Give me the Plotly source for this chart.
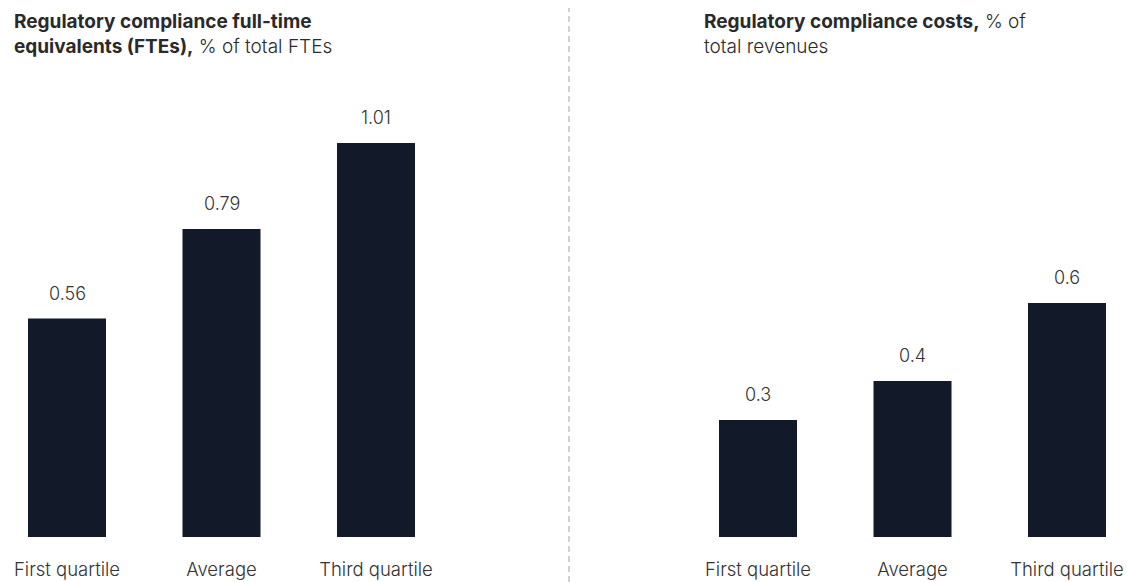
import plotly.graph_objects as go

# Data
categories = ["First quartile", "Average", "Third quartile"]
fte_share = [0.56, 0.79, 1.01]        # % of total FTEs
cost_share = [0.3, 0.4, 0.6]          # % of total revenues
fte_labels = ["0.56", "0.79", "1.01"]
cost_labels = ["0.3", "0.4", "0.6"]

W, H = 1127, 582
BAR = "#121a2a"
FONT = "Inter, 'Noto Sans', Arial, sans-serif"

fig = go.Figure()
fig.add_trace(go.Bar(x=categories, y=fte_share, xaxis="x", yaxis="y",
                     marker=dict(color=BAR, line=dict(width=0)), width=0.505,
                     hoverinfo="skip"))
fig.add_trace(go.Bar(x=categories, y=cost_share, xaxis="x2", yaxis="y2",
                     marker=dict(color=BAR, line=dict(width=0)), width=0.505,
                     hoverinfo="skip"))

# Value labels above bars
ann = []
for xref, yref, vals, labs in (("x", "y", fte_share, fte_labels),
                               ("x2", "y2", cost_share, cost_labels)):
    for c, v, t in zip(categories, vals, labs):
        ann.append(dict(x=c, y=v, xref=xref, yref=yref, text=t, showarrow=False,
                        yanchor="bottom", yshift=13,
                        font=dict(family=FONT, size=18, color="#333333",
                                  weight=300)))

# Panel titles
title_font = dict(family=FONT, size=19, color="#2a2a2a", weight=300)
ann.append(dict(x=12 / W, y=1 - 8 / H, xref="paper", yref="paper",
                xanchor="left", yanchor="top", align="left", showarrow=False,
                text="<b>Regulatory compliance full-time</b><br>"
                     "<b>equivalents (FTEs),</b> % of total FTEs",
                font=title_font))
ann.append(dict(x=702 / W, y=1 - 8 / H, xref="paper", yref="paper",
                xanchor="left", yanchor="top", align="left", showarrow=False,
                text="<b>Regulatory compliance costs,</b> % of<br>total revenues",
                font=title_font))

# Geometry
step = 154.5
base_px = 537
top_px = 60
unit_px = 390
ydom = [(H - base_px) / H, (H - top_px) / H]
ymax = (base_px - top_px) / unit_px

l0 = -67 / step
r_start = 690
r0 = -(758 - r_start) / step

axis_common = dict(showgrid=False, zeroline=False, showline=False,
                   ticks="outside", ticklen=16, tickcolor="rgba(0,0,0,0)",
                   tickfont=dict(family=FONT, size=18.5, color="#333333",
                                 weight=300),
                   fixedrange=True)

fig.update_layout(
    width=W, height=H,
    margin=dict(l=0, r=0, t=0, b=0),
    paper_bgcolor="white", plot_bgcolor="white",
    showlegend=False,
    xaxis=dict(domain=[0, 460 / W], range=[l0, l0 + 460 / step], **axis_common),
    xaxis2=dict(domain=[r_start / W, 1], range=[r0, r0 + (W - r_start) / step],
                anchor="y2", **axis_common),
    yaxis=dict(domain=ydom, range=[0, ymax], visible=False, fixedrange=True),
    yaxis2=dict(domain=ydom, range=[0, ymax], visible=False, fixedrange=True,
                anchor="x2"),
    annotations=ann,
    shapes=[dict(type="line", xref="paper", yref="paper",
                 x0=569 / W, x1=569 / W, y0=0, y1=1 - 8 / H,
                 line=dict(color="#c4c4c4", width=1.5, dash="6px,4px"))],
)

fig.write_html("out.html")
